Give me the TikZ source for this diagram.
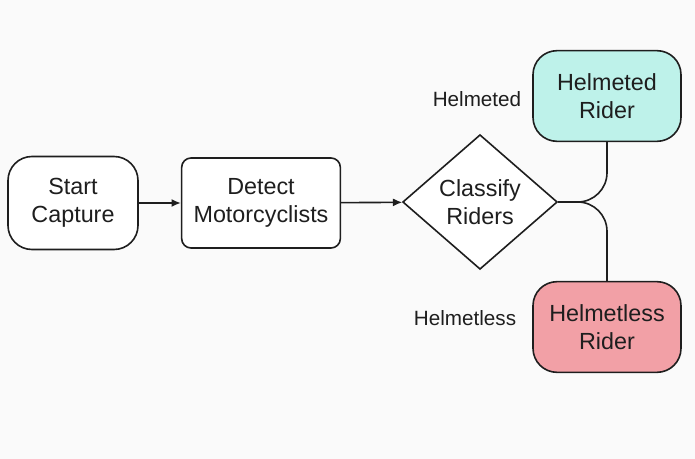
\documentclass[tikz,border=0pt]{standalone}
\usepackage{fontspec}
\setmainfont{Liberation Sans}
\usetikzlibrary{shapes.geometric,arrows.meta}
\definecolor{bgcol}{RGB}{250,250,250}
\definecolor{helmcol}{RGB}{190,242,234}
\definecolor{nohelmcol}{RGB}{242,160,166}
\definecolor{inkcol}{RGB}{30,30,30}
\begin{document}
\begin{tikzpicture}[
    x=0.75pt,
    y=-0.75pt,
    terminal/.style={
        draw=inkcol,
        rounded corners=18pt,
        line width=1.2pt,
        align=center,
        minimum height=69.75pt,
        minimum width=97.5pt,
        fill=white,
        text=inkcol,
        font=\fontsize{17.5}{21}\selectfont
    },
    process/.style={
        draw=inkcol,
        rounded corners=7pt,
        line width=1.2pt,
        align=center,
        minimum height=67.5pt,
        minimum width=119pt,
        inner sep=2pt,
        fill=white,
        text=inkcol,
        font=\fontsize{17.5}{21}\selectfont
    },
    decision/.style={
        draw=inkcol,
        diamond,
        line width=1.2pt,
        align=center,
        inner sep=0pt,
        minimum width=116pt,
        minimum height=101pt,
        fill=white,
        text=inkcol,
        font=\fontsize{17.5}{21}\selectfont
    },
    outcome/.style={
        draw=inkcol,
        rounded corners=18pt,
        line width=1.2pt,
        align=center,
        minimum height=68pt,
        minimum width=111pt,
        text=inkcol,
        font=\fontsize{17.5}{21}\selectfont
    },
    branchlabel/.style={text=inkcol, font=\fontsize{15.5}{18}\selectfont},
    flow/.style={-{Latex[length=7pt,width=6pt]}, line width=1.2pt, draw=inkcol},
    branch/.style={line width=1.2pt, draw=inkcol, rounded corners=22pt}
]

\fill[bgcol] (0,0) rectangle (695,459);
\useasboundingbox (0,0) rectangle (695,459);

\node[terminal] (start) at (73,203) {Start\\Capture};
\node[process] (detect) at (261,203) {Detect\\Motorcyclists};
\node[decision] (classify) at (480,202) {Classify\\Riders};

\node[outcome, fill=helmcol] (helmeted) at (607,96) {Helmeted\\Rider};
\node[outcome, fill=nohelmcol] (helmetless) at (607,327) {Helmetless\\Rider};

\node[branchlabel] (lblhelmeted) at (477,99) {Helmeted};
\node[branchlabel] (lblhelmetless) at (465,318) {Helmetless};

\draw[flow] (start) -- (detect);
\draw[flow] (detect) -- (classify);
\draw[branch] (classify.east) -| (helmeted.south);
\draw[branch] (classify.east) -| (helmetless.north);

\end{tikzpicture}
\end{document}
